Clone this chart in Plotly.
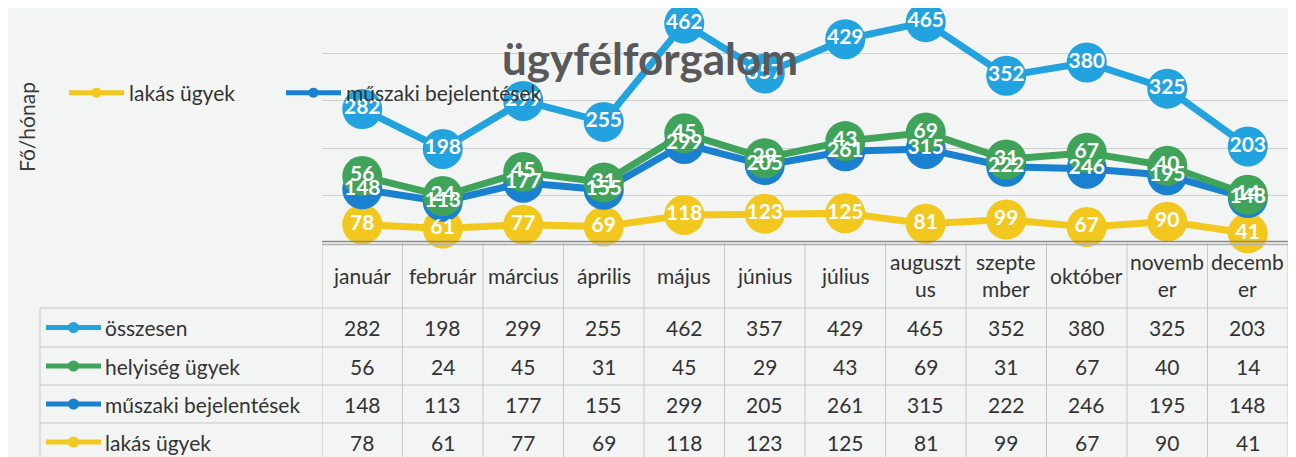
import plotly.graph_objects as go

# ---------------- data ----------------
months = ["január", "február", "március", "április", "május", "június",
          "július", "augusztus", "szeptember", "október", "november", "december"]
month_headers = ["január", "február", "március", "április", "május", "június",
                 "július", "auguszt<br>us", "szepte<br>mber", "október", "novemb<br>er", "decemb<br>er"]

lakas = [78, 61, 77, 69, 118, 123, 125, 81, 99, 67, 90, 41]
muszaki = [148, 113, 177, 155, 299, 205, 261, 315, 222, 246, 195, 148]
helyiseg = [56, 24, 45, 31, 45, 29, 43, 69, 31, 67, 40, 14]
osszesen = [282, 198, 299, 255, 462, 357, 429, 465, 352, 380, 325, 203]

# stacking order (bottom to top) as in the Excel stacked line chart
series_names = ["lakás ügyek", "műszaki bejelentések", "helyiség ügyek", "összesen"]
series_values = [lakas, muszaki, helyiseg, osszesen]
series_colors = ["#f2c81e", "#1a80d0", "#3fa35a", "#22a2de"]

# table rows (top to bottom)
table_names = ["összesen", "helyiség ügyek", "műszaki bejelentések", "lakás ügyek"]
table_values = [osszesen, helyiseg, muszaki, lakas]
table_colors = ["#22a2de", "#3fa35a", "#1a80d0", "#f2c81e"]

legend_names = ["lakás ügyek", "műszaki bejelentések"]
legend_colors = ["#f2c81e", "#1a80d0"]

title_text = "ügyfélforgalom"
y_title = "Fő/hónap"

# ---------------- layout helpers ----------------
# the page body adds an 8px offset, so the figure is 8px smaller and
# reference pixel positions are shifted accordingly
OFF = 8
W, H = 1296 - OFF, 457 - OFF
FONT = "Lato"
TXT = "#333333"


def fx(px):
    return (px - OFF) / W


def fy(py):
    return 1 - (py - OFF) / H


fig = go.Figure()

# lines + markers (stacked)
for name, vals, col in zip(series_names, series_values, series_colors):
    fig.add_trace(go.Scatter(
        x=months, y=vals, name=name, stackgroup="lines", fill="none",
        mode="lines+markers", line=dict(color=col, width=7),
        marker=dict(size=40, color=col), showlegend=False, hoverinfo="skip",
        cliponaxis=False))

# data labels on top of everything (same stacking)
for name, vals in zip(series_names, series_values):
    fig.add_trace(go.Scatter(
        x=months, y=vals, stackgroup="labels", fill="none", mode="text",
        text=[str(v) for v in vals], textposition="middle center",
        textfont=dict(family=FONT, size=21, color="white", weight="bold"),
        showlegend=False, hoverinfo="skip", cliponaxis=False))

# legend entries (each in its own legend box, placed like the reference)
for k, (name, col) in enumerate(zip(legend_names, legend_colors)):
    fig.add_trace(go.Scatter(
        x=[None], y=[None], name=name, mode="lines+markers",
        line=dict(color=col, width=5), marker=dict(size=10, color=col),
        legend="legend" if k == 0 else "legend2"))

shapes = []
annotations = []

# ---- data table ----
top, hdr_bot = 243, 308
row_lines = [308, 347, 385, 423]
row_centers = [327.5, 366, 404, 442]
left_x = 40
grid_col = "#c6c6c6"
TFS = 21

# vertical column lines
for i in range(len(months) + 1):
    shapes.append(dict(type="line", xref="x", yref="paper",
                       x0=i - 0.5, x1=i - 0.5, y0=fy(top), y1=fy(H + OFF + 5),
                       line=dict(color=grid_col, width=1)))
# left column border
shapes.append(dict(type="line", xref="paper", yref="paper",
                   x0=fx(left_x), x1=fx(left_x), y0=fy(hdr_bot), y1=fy(H + OFF + 5),
                   line=dict(color=grid_col, width=1)))
# horizontal row lines
for ry in row_lines:
    shapes.append(dict(type="line", xref="paper", yref="paper",
                       x0=fx(left_x), x1=fx(1288), y0=fy(ry), y1=fy(ry),
                       line=dict(color=grid_col, width=1)))
# top double border of the table (axis line)
for ty, c in [(241.5, "#8a8a8a"), (244.5, "#b0b0b0")]:
    shapes.append(dict(type="line", xref="x", yref="paper",
                       x0=-0.5, x1=len(months) - 0.5, y0=fy(ty), y1=fy(ty),
                       line=dict(color=c, width=1.5)))

# header labels
for i, h in enumerate(month_headers):
    annotations.append(dict(x=i, y=fy(275), xref="x", yref="paper", text=h,
                            showarrow=False, xanchor="center", yanchor="middle",
                            font=dict(family=FONT, size=TFS, color=TXT)))
# rows
for rname, vals, col, cy in zip(table_names, table_values, table_colors, row_centers):
    # legend key
    shapes.append(dict(type="line", xref="paper", yref="paper",
                       x0=fx(46), x1=fx(101), y0=fy(cy), y1=fy(cy),
                       line=dict(color=col, width=5)))
    shapes.append(dict(type="circle", xref="paper", yref="paper",
                       x0=fx(68), x1=fx(79), y0=fy(cy + 5.5), y1=fy(cy - 5.5),
                       fillcolor=col, line=dict(color=col, width=0)))
    annotations.append(dict(x=fx(103), y=fy(cy), xref="paper", yref="paper",
                            text=rname, showarrow=False, xanchor="left",
                            yanchor="middle",
                            font=dict(family=FONT, size=TFS, color=TXT)))
    for i, v in enumerate(vals):
        annotations.append(dict(x=i, y=fy(cy), xref="x", yref="paper",
                                text=str(v), showarrow=False, xanchor="center",
                                yanchor="middle",
                                font=dict(family=FONT, size=TFS, color=TXT)))

# y-axis title
annotations.append(dict(x=fx(27), y=fy(127), xref="paper", yref="paper",
                        text=y_title, textangle=-90, showarrow=False,
                        xanchor="center", yanchor="middle",
                        font=dict(family=FONT, size=21, color="#3a3a3a")))
# chart title
annotations.append(dict(x=fx(650), y=fy(58), xref="paper", yref="paper",
                        text="<b>" + title_text + "</b>", showarrow=False,
                        xanchor="center", yanchor="middle",
                        font=dict(family=FONT, size=44, color="#595959")))

legend_common = dict(orientation="h", xanchor="left", yanchor="middle",
                     bgcolor="rgba(0,0,0,0)",
                     font=dict(family=FONT, size=21, color=TXT),
                     itemwidth=55)

fig.update_layout(
    width=W, height=H,
    margin=dict(l=0, r=0, t=0, b=0),
    paper_bgcolor="#f3f4f4", plot_bgcolor="rgba(0,0,0,0)",
    font=dict(family=FONT),
    xaxis=dict(domain=[fx(322), fx(1288)], range=[-0.5, 11.5],
               showticklabels=False, showgrid=False, zeroline=False,
               ticks="", fixedrange=True),
    yaxis=dict(domain=[fy(243), 1], range=[0, 1000 * (243 - 8) / (243 - 5.5)],
               tickvals=[200, 400, 600, 800],
               showticklabels=False, showgrid=True, gridcolor="#cfcfcf",
               gridwidth=1, zeroline=False, ticks=""),
    legend=dict(x=fx(64), y=fy(93), **legend_common),
    legend2=dict(x=fx(281), y=fy(93), **legend_common),
    shapes=shapes, annotations=annotations,
    showlegend=True,
)

fig.write_html("out.html")
